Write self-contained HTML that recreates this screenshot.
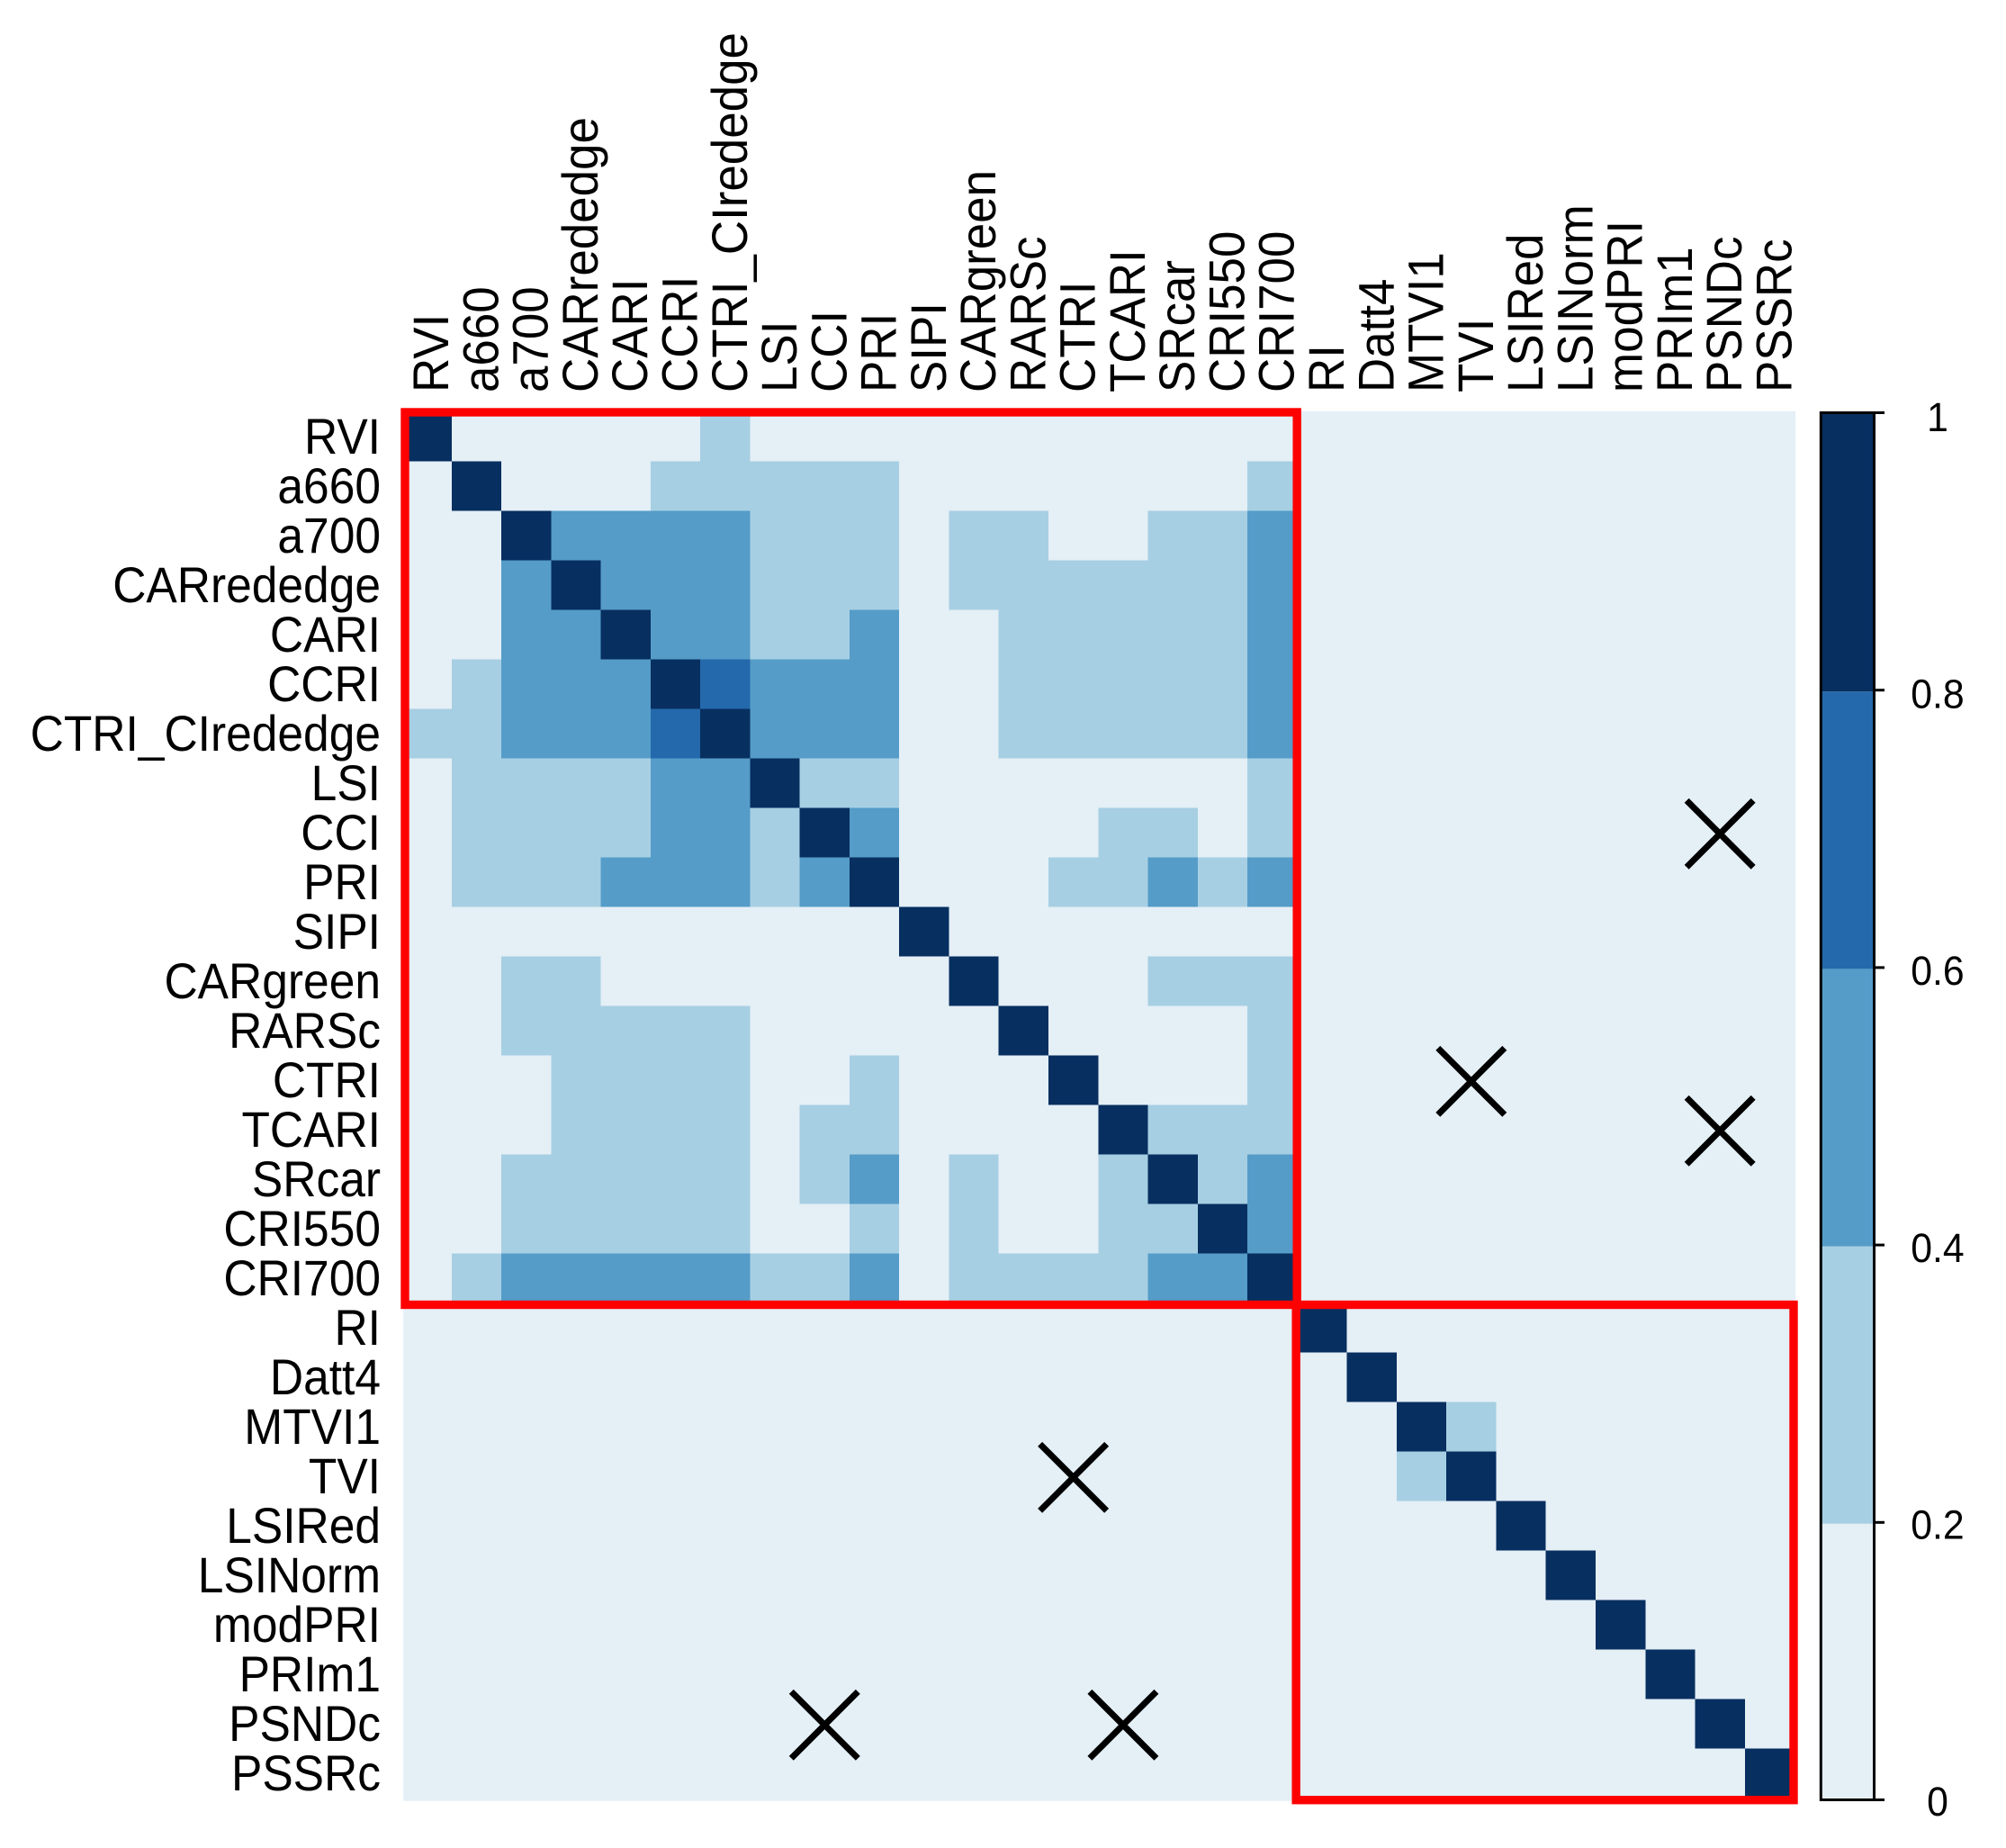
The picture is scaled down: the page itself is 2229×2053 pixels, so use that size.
<!DOCTYPE html>
<html lang="en">
<head>
<meta charset="utf-8">
<title>Correlation matrix heatmap</title>
<style>
html,body{margin:0;padding:0;background:#fff;}
body{width:2229px;height:2053px;overflow:hidden;}
svg{display:block;}
text{font-family:"Liberation Sans",Arial,sans-serif;fill:#000;}
</style>
</head>
<body>
<svg id="chart" xmlns="http://www.w3.org/2000/svg" width="2229" height="2053" viewBox="0 0 2229 2053">
  <defs>
    <clipPath id="plot-clip"><rect x="448.3" y="457" width="1546.7" height="1543.7"></rect></clipPath>
  </defs>
  <rect x="0" y="0" width="2229" height="2053" fill="#ffffff"></rect>
  <rect x="448.3" y="457" width="1546.7" height="1543.7" fill="#e4eff6"></rect>
  <g id="cells" clip-path="url(#plot-clip)" shape-rendering="crispEdges"></g>
  <g id="crosses"></g>
  <g id="boxes"></g>
  <g id="row-labels"></g>
  <g id="col-labels"></g>
  <g id="colorbar"></g>
</svg>
<script>
const variableLabels = ["RVI","a660","a700","CARrededge","CARI","CCRI","CTRI_CIrededge","LSI","CCI","PRI","SIPI","CARgreen","RARSc","CTRI","TCARI","SRcar","CRI550","CRI700","RI","Datt4","MTVI1","TVI","LSIRed","LSINorm","modPRI","PRIm1","PSNDc","PSSRc"];

const correlationRows = [
[1,.1,.1,.1,.1,.1,.3,.1,.1,.1,.1,.1,.1,.1,.1,.1,.1,.1,.1,.1,.1,.1,.1,.1,.1,.1,.1,.1],
[.1,1,.1,.1,.1,.3,.3,.3,.3,.3,.1,.1,.1,.1,.1,.1,.1,.3,.1,.1,.1,.1,.1,.1,.1,.1,.1,.1],
[.1,.1,1,.5,.5,.5,.5,.3,.3,.3,.1,.3,.3,.1,.1,.3,.3,.5,.1,.1,.1,.1,.1,.1,.1,.1,.1,.1],
[.1,.1,.5,1,.5,.5,.5,.3,.3,.3,.1,.3,.3,.3,.3,.3,.3,.5,.1,.1,.1,.1,.1,.1,.1,.1,.1,.1],
[.1,.1,.5,.5,1,.5,.5,.3,.3,.5,.1,.1,.3,.3,.3,.3,.3,.5,.1,.1,.1,.1,.1,.1,.1,.1,.1,.1],
[.1,.3,.5,.5,.5,1,.7,.5,.5,.5,.1,.1,.3,.3,.3,.3,.3,.5,.1,.1,.1,.1,.1,.1,.1,.1,.1,.1],
[.3,.3,.5,.5,.5,.7,1,.5,.5,.5,.1,.1,.3,.3,.3,.3,.3,.5,.1,.1,.1,.1,.1,.1,.1,.1,.1,.1],
[.1,.3,.3,.3,.3,.5,.5,1,.3,.3,.1,.1,.1,.1,.1,.1,.1,.3,.1,.1,.1,.1,.1,.1,.1,.1,.1,.1],
[.1,.3,.3,.3,.3,.5,.5,.3,1,.5,.1,.1,.1,.1,.3,.3,.1,.3,.1,.1,.1,.1,.1,.1,.1,.1,.1,.1],
[.1,.3,.3,.3,.5,.5,.5,.3,.5,1,.1,.1,.1,.3,.3,.5,.3,.5,.1,.1,.1,.1,.1,.1,.1,.1,.1,.1],
[.1,.1,.1,.1,.1,.1,.1,.1,.1,.1,1,.1,.1,.1,.1,.1,.1,.1,.1,.1,.1,.1,.1,.1,.1,.1,.1,.1],
[.1,.1,.3,.3,.1,.1,.1,.1,.1,.1,.1,1,.1,.1,.1,.3,.3,.3,.1,.1,.1,.1,.1,.1,.1,.1,.1,.1],
[.1,.1,.3,.3,.3,.3,.3,.1,.1,.1,.1,.1,1,.1,.1,.1,.1,.3,.1,.1,.1,.1,.1,.1,.1,.1,.1,.1],
[.1,.1,.1,.3,.3,.3,.3,.1,.1,.3,.1,.1,.1,1,.1,.1,.1,.3,.1,.1,.1,.1,.1,.1,.1,.1,.1,.1],
[.1,.1,.1,.3,.3,.3,.3,.1,.3,.3,.1,.1,.1,.1,1,.3,.3,.3,.1,.1,.1,.1,.1,.1,.1,.1,.1,.1],
[.1,.1,.3,.3,.3,.3,.3,.1,.3,.5,.1,.3,.1,.1,.3,1,.3,.5,.1,.1,.1,.1,.1,.1,.1,.1,.1,.1],
[.1,.1,.3,.3,.3,.3,.3,.1,.1,.3,.1,.3,.1,.1,.3,.3,1,.5,.1,.1,.1,.1,.1,.1,.1,.1,.1,.1],
[.1,.3,.5,.5,.5,.5,.5,.3,.3,.5,.1,.3,.3,.3,.3,.5,.5,1,.1,.1,.1,.1,.1,.1,.1,.1,.1,.1],
[.1,.1,.1,.1,.1,.1,.1,.1,.1,.1,.1,.1,.1,.1,.1,.1,.1,.1,1,.1,.1,.1,.1,.1,.1,.1,.1,.1],
[.1,.1,.1,.1,.1,.1,.1,.1,.1,.1,.1,.1,.1,.1,.1,.1,.1,.1,.1,1,.1,.1,.1,.1,.1,.1,.1,.1],
[.1,.1,.1,.1,.1,.1,.1,.1,.1,.1,.1,.1,.1,.1,.1,.1,.1,.1,.1,.1,1,.3,.1,.1,.1,.1,.1,.1],
[.1,.1,.1,.1,.1,.1,.1,.1,.1,.1,.1,.1,.1,.1,.1,.1,.1,.1,.1,.1,.3,1,.1,.1,.1,.1,.1,.1],
[.1,.1,.1,.1,.1,.1,.1,.1,.1,.1,.1,.1,.1,.1,.1,.1,.1,.1,.1,.1,.1,.1,1,.1,.1,.1,.1,.1],
[.1,.1,.1,.1,.1,.1,.1,.1,.1,.1,.1,.1,.1,.1,.1,.1,.1,.1,.1,.1,.1,.1,.1,1,.1,.1,.1,.1],
[.1,.1,.1,.1,.1,.1,.1,.1,.1,.1,.1,.1,.1,.1,.1,.1,.1,.1,.1,.1,.1,.1,.1,.1,1,.1,.1,.1],
[.1,.1,.1,.1,.1,.1,.1,.1,.1,.1,.1,.1,.1,.1,.1,.1,.1,.1,.1,.1,.1,.1,.1,.1,.1,1,.1,.1],
[.1,.1,.1,.1,.1,.1,.1,.1,.1,.1,.1,.1,.1,.1,.1,.1,.1,.1,.1,.1,.1,.1,.1,.1,.1,.1,1,.1],
[.1,.1,.1,.1,.1,.1,.1,.1,.1,.1,.1,.1,.1,.1,.1,.1,.1,.1,.1,.1,.1,.1,.1,.1,.1,.1,.1,1]
];

const colorBreaks = [0, 0.2, 0.4, 0.6, 0.8, 1];
const colorPalette = ["#e4eff6", "#a7cfe3", "#559cc8", "#2469ab", "#072f60"];
const colorbarTicks = [0, 0.2, 0.4, 0.6, 0.8, 1];
const colorbarTickLabels = ["0", "0.2", "0.4", "0.6", "0.8", "1"];

const insignificantPairs = [
  ["CCI", "PSNDc"],
  ["CTRI", "TVI"],
  ["TCARI", "PSNDc"],
  ["TVI", "CTRI"],
  ["PSNDc", "CCI"],
  ["PSNDc", "TCARI"]
];

const clusterFirst = ["RVI", "RI"];
const clusterLast = ["CRI700", "PSSRc"];

const SVG_NS = "http://www.w3.org/2000/svg";
const colWidth = 55.27;
const rowHeight = 55;
const xAxis = function (i) { return 446.5 + i * colWidth; };
const yAxis = function (i) { return 457.3 + i * rowHeight; };
const barTickY = function (v) { return 1999.5 - v * 1541; };
const barLabelY = function (v) { return 2017 - v * 1538; };
const colorFor = function (v) {
  for (let k = 0; k < colorPalette.length; k++) {
    if (v <= colorBreaks[k + 1]) return colorPalette[k];
  }
  return colorPalette[colorPalette.length - 1];
};
const make = function (tag, attrs, parent) {
  const el = document.createElementNS(SVG_NS, tag);
  for (const key in attrs) el.setAttribute(key, attrs[key]);
  parent.appendChild(el);
  return el;
};

const cellsGroup = document.getElementById("cells");
correlationRows.forEach(function (row, r) {
  row.forEach(function (value, c) {
    const cell = make("rect", {
      x: xAxis(c), y: yAxis(r), width: colWidth + 0.4, height: rowHeight + 0.4, fill: colorFor(value)
    }, cellsGroup);
    
    
  });
});

const crossGroup = document.getElementById("crosses");
insignificantPairs.forEach(function (pair) {
  const cx = xAxis(variableLabels.indexOf(pair[1]) + 0.5);
  const cy = yAxis(variableLabels.indexOf(pair[0]) + 0.5) + 1.5;
  const arm = 37;
  const cross = make("path", {
    d: "M" + (cx - arm) + " " + (cy - arm) + "L" + (cx + arm) + " " + (cy + arm) +
       "M" + (cx - arm) + " " + (cy + arm) + "L" + (cx + arm) + " " + (cy - arm),
    stroke: "#000", "stroke-width": 7, fill: "none"
  }, crossGroup);
  
  
});

const boxGroup = document.getElementById("boxes");
clusterFirst.forEach(function (name, k) {
  const a = variableLabels.indexOf(name);
  const b = variableLabels.indexOf(clusterLast[k]) + 1;
  const left = k === 0 ? 450 : xAxis(a) - 1.2;
  const top = k === 0 ? 458 : yAxis(a) + 2.2;
  const right = k === 0 ? xAxis(b) - 0.2 : 1993;
  const bottom = k === 0 ? yAxis(b) + 2.2 : 1999.7;
  const box = make("rect", {
    x: left, y: top, width: right - left, height: bottom - top,
    fill: "none", stroke: "#ff0000", "stroke-width": 9.4
  }, boxGroup);
  
  
});

const rowLabelGroup = document.getElementById("row-labels");
variableLabels.forEach(function (name, i) {
  const t = make("text", {
    transform: "translate(423," + (yAxis(i + 0.5) + 19) + ") scale(0.92,1)",
    "font-size": 56, "text-anchor": "end"
  }, rowLabelGroup);
  t.textContent = name;
  
  
});

const colLabelGroup = document.getElementById("col-labels");
variableLabels.forEach(function (name, i) {
  const t = make("text", {
    transform: "translate(" + (xAxis(i + 0.5) + 24) + ",436) rotate(-90) scale(0.945,1)",
    "font-size": 56, "text-anchor": "start"
  }, colLabelGroup);
  t.textContent = name;
  
  
});

const barGroup = document.getElementById("colorbar");
colorPalette.forEach(function (color, k) {
  const yTop = barTickY(colorBreaks[k + 1]) + (k === colorPalette.length - 1 ? 0 : 1.5);
  const yBottom = barTickY(colorBreaks[k]) + (k === 0 ? 0 : 1.5);
  const seg = make("rect", {
    x: 2023.3, y: yTop, width: 59.2, height: yBottom - yTop, fill: color
  }, barGroup);
  
  
});
const barFrame = make("rect", {
  x: 2023.3, y: barTickY(1), width: 59.2, height: barTickY(0) - barTickY(1),
  fill: "none", stroke: "#000", "stroke-width": 3
}, barGroup);


colorbarTicks.forEach(function (v, k) {
  const tick = make("line", {
    x1: 2082.5, x2: 2094, y1: barTickY(v), y2: barTickY(v), stroke: "#000", "stroke-width": 3
  }, barGroup);
  
  
  const label = make("text", {
    transform: "translate(2153," + barLabelY(v) + ") scale(0.95,1)",
    "font-size": 45, "text-anchor": "middle"
  }, barGroup);
  label.textContent = colorbarTickLabels[k];
  
  
});
</script>
</body>
</html>
